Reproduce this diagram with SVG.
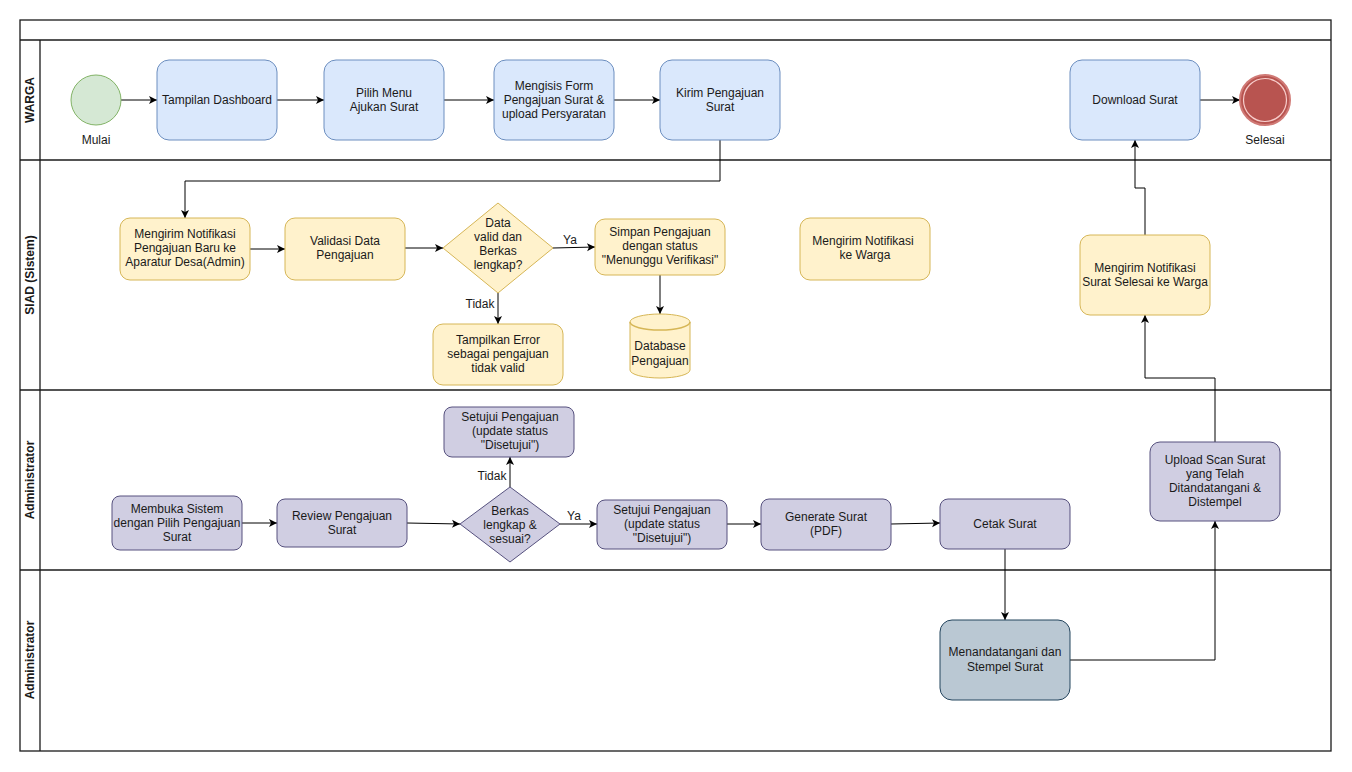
<svg xmlns="http://www.w3.org/2000/svg" width="1352" height="772" viewBox="0 0 1352 772">
<style>
text{font-family:"Liberation Sans",Arial,sans-serif;font-size:12px;fill:#1a1a1a;text-anchor:middle}
.lane{fill:none;stroke:#1a1a1a;stroke-width:1.3}
.lt{font-weight:bold;font-size:12px}
.blue{fill:#dae8fc;stroke:#6c8ebf;stroke-width:1}
.yel{fill:#fff2cc;stroke:#d6b656;stroke-width:1}
.pur{fill:#d0cee2;stroke:#56517e;stroke-width:1}
.slate{fill:#bac8d3;stroke:#23445d;stroke-width:1}
.edge{fill:none;stroke:#000;stroke-width:1;marker-end:url(#arr)}
</style>
<defs>
<marker id="arr" markerUnits="userSpaceOnUse" markerWidth="10" markerHeight="10" refX="9" refY="5" orient="auto">
<path d="M1,1 L9,5 L1,9 L3,5 z" fill="#000"/>
</marker>
</defs>
<rect x="0" y="0" width="1352" height="772" fill="#fff"/>
<g id="pool">
<rect class="lane" x="20" y="20" width="1311" height="731"/>
<line class="lane" x1="20" y1="40" x2="1331" y2="40"/>
<line class="lane" x1="20" y1="160" x2="1331" y2="160"/>
<line class="lane" x1="20" y1="390" x2="1331" y2="390"/>
<line class="lane" x1="20" y1="570" x2="1331" y2="570"/>
<line class="lane" x1="40" y1="40" x2="40" y2="751"/>
<text class="lt" transform="translate(34,100) rotate(-90)">WARGA</text>
<text class="lt" transform="translate(34,275) rotate(-90)">SIAD (Sistem)</text>
<text class="lt" transform="translate(34,480) rotate(-90)">Administrator</text>
<text class="lt" transform="translate(34,660) rotate(-90)">Administrator</text>
</g>
<g id="connectors">
<path class="edge" d="M121,100 H157"/>
<path class="edge" d="M277,100 H324"/>
<path class="edge" d="M444,100 H494"/>
<path class="edge" d="M614,100 H660"/>
<path class="edge" d="M1200,100 H1240"/>
<path class="edge" d="M720,140 V181 H185 V218"/>
<path class="edge" d="M250,249 H285"/>
<path class="edge" d="M405,248 H443"/>
<path class="edge" d="M553,248 L595,247"/>
<text x="570" y="244">Ya</text>
<path class="edge" d="M498,293 V324"/>
<text x="480" y="308">Tidak</text>
<path class="edge" d="M660,275 V314"/>
<path class="edge" d="M1145,235 V188 H1135 V140"/>
<path class="edge" d="M1215,442 V378 H1145 V315"/>
<path class="edge" d="M242,523 H277"/>
<path class="edge" d="M407,523 L460,524"/>
<path class="edge" d="M560,524 H597"/>
<text x="574" y="520">Ya</text>
<path class="edge" d="M510,487 V457"/>
<text x="492" y="480">Tidak</text>
<path class="edge" d="M727,524 H761"/>
<path class="edge" d="M891,524 L940,523"/>
<path class="edge" d="M1005,549 V620"/>
<path class="edge" d="M1070,660 H1215 V521"/>
</g>
<g id="mulai">
<circle cx="96" cy="100" r="25" fill="#d5e8d4" stroke="#82b366"/>
<text x="96" y="144">Mulai</text>
</g>
<g id="dashboard"><rect class="blue" x="157" y="60" width="120" height="80" rx="12"/><text x="217" y="104">Tampilan Dashboard</text></g>
<g id="pilih"><rect class="blue" x="324" y="60" width="120" height="80" rx="12"/><text x="384" y="97">Pilih Menu</text><text x="384" y="111">Ajukan Surat</text></g>
<g id="isi"><rect class="blue" x="494" y="60" width="120" height="80" rx="12"/><text x="554" y="90">Mengisis Form</text><text x="554" y="104">Pengajuan Surat &amp;</text><text x="554" y="118">upload Persyaratan</text></g>
<g id="kirim"><rect class="blue" x="660" y="60" width="120" height="80" rx="12"/><text x="720" y="97">Kirim Pengajuan</text><text x="720" y="111">Surat</text></g>
<g id="download"><rect class="blue" x="1070" y="60" width="130" height="80" rx="12"/><text x="1135" y="104">Download Surat</text></g>
<g id="selesai">
<circle cx="1265" cy="100" r="25" fill="#b85450" stroke="#d07a76" stroke-width="2"/>
<circle cx="1265" cy="100" r="21.5" fill="none" stroke="#f8cecc" stroke-width="1.2"/>
<text x="1265" y="144">Selesai</text>
</g>
<g id="notif-baru"><rect class="yel" x="120" y="218" width="130" height="62" rx="10"/><text x="185" y="238">Mengirim Notifikasi</text><text x="185" y="252">Pengajuan Baru ke</text><text x="185" y="266">Aparatur Desa(Admin)</text></g>
<g id="validasi"><rect class="yel" x="285" y="218" width="120" height="62" rx="10"/><text x="345" y="245">Validasi Data</text><text x="345" y="259">Pengajuan</text></g>
<g id="cek-data"><polygon class="yel" points="498,203 553,248 498,293 443,248"/><text x="498" y="227">Data</text><text x="498" y="241">valid dan</text><text x="498" y="255">Berkas</text><text x="498" y="269">lengkap?</text></g>
<g id="simpan"><rect class="yel" x="595" y="219" width="130" height="56" rx="10"/><text x="660" y="236">Simpan Pengajuan</text><text x="660" y="250">dengan status</text><text x="660" y="264">"Menunggu Verifikasi"</text></g>
<g id="database">
<path class="yel" stroke-width="1.5" d="M630,322 V370 A30,8 0 0 0 690,370 V322 A30,8 0 0 0 630,322 Z"/>
<path d="M630,322 A30,8 0 0 0 690,322" fill="none" stroke="#d6b656" stroke-width="1.5"/>
<text x="660" y="350">Database</text><text x="660" y="365">Pengajuan</text>
</g>
<g id="error"><rect class="yel" x="433" y="324" width="130" height="61" rx="10"/><text x="498" y="344">Tampilkan Error</text><text x="498" y="358">sebagai pengajuan</text><text x="498" y="372">tidak valid</text></g>
<g id="notif-warga"><rect class="yel" x="800" y="218" width="130" height="62" rx="10"/><text x="863" y="245">Mengirim Notifikasi</text><text x="865" y="259">ke Warga</text></g>
<g id="notif-selesai"><rect class="yel" x="1080" y="235" width="130" height="80" rx="10"/><text x="1145" y="272">Mengirim Notifikasi</text><text x="1145" y="286">Surat Selesai ke Warga</text></g>
<g id="setujui-tidak"><rect class="pur" x="444" y="407" width="130" height="50" rx="8"/><text x="510" y="421">Setujui Pengajuan</text><text x="510" y="435">(update status</text><text x="510" y="449">"Disetujui")</text></g>
<g id="membuka"><rect class="pur" x="112" y="496" width="130" height="54" rx="8"/><text x="177" y="513">Membuka Sistem</text><text x="177" y="527">dengan Pilih Pengajuan</text><text x="177" y="541">Surat</text></g>
<g id="review"><rect class="pur" x="277" y="499" width="130" height="48" rx="8"/><text x="342" y="520">Review Pengajuan</text><text x="342" y="534">Surat</text></g>
<g id="cek-berkas"><polygon class="pur" points="510,487 560,524 510,562 460,524"/><text x="510" y="515">Berkas</text><text x="510" y="529">lengkap &amp;</text><text x="510" y="543">sesuai?</text></g>
<g id="setujui-ya"><rect class="pur" x="597" y="500" width="130" height="49" rx="8"/><text x="662" y="514">Setujui Pengajuan</text><text x="662" y="528">(update status</text><text x="662" y="542">"Disetujui")</text></g>
<g id="generate"><rect class="pur" x="761" y="499" width="130" height="51" rx="8"/><text x="826" y="521">Generate Surat</text><text x="826" y="535">(PDF)</text></g>
<g id="cetak"><rect class="pur" x="940" y="499" width="130" height="50" rx="8"/><text x="1005" y="528">Cetak Surat</text></g>
<g id="upload"><rect class="pur" x="1150" y="442" width="130" height="79" rx="10"/><text x="1215" y="464">Upload Scan Surat</text><text x="1215" y="478">yang Telah</text><text x="1215" y="492">Ditandatangani &amp;</text><text x="1215" y="506">Distempel</text></g>
<g id="ttd"><rect class="slate" x="940" y="620" width="130" height="80" rx="12"/><text x="1005" y="656">Menandatangani dan</text><text x="1005" y="671">Stempel Surat</text></g>
</svg>
